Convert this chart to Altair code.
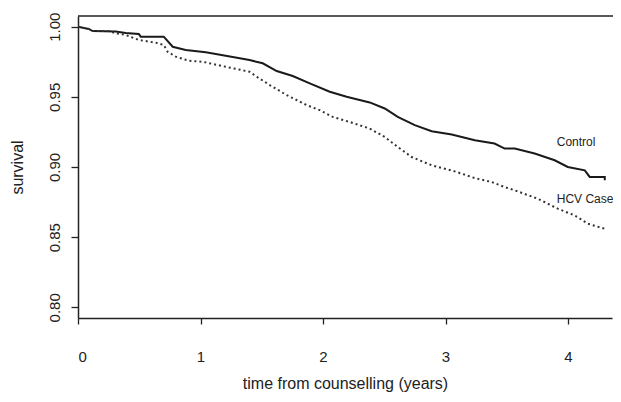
import altair as alt
import pandas as pd

# Kaplan-Meier curves
ctrl_t = [0.0, 0.087, 0.12, 0.308, 0.389, 0.496, 0.512, 0.70, 0.773, 0.879, 1.043, 1.206,
          1.40, 1.508, 1.622, 1.753, 1.892, 2.055, 2.193, 2.381, 2.504, 2.61, 2.749, 2.887,
          3.051, 3.239, 3.40, 3.483, 3.565, 3.728, 3.891, 3.998, 4.137, 4.177, 4.30, 4.30]
ctrl_s = [1.000, 0.9984, 0.9969, 0.9966, 0.9955, 0.9948, 0.9929, 0.9929, 0.9857, 0.9834, 0.9817, 0.9793,
          0.9762, 0.9739, 0.9684, 0.9648, 0.9596, 0.9536, 0.9500, 0.9460, 0.9417, 0.9357, 0.9298, 0.9255,
          0.9231, 0.9191, 0.9167, 0.9131, 0.9131, 0.9096, 0.9048, 0.9000, 0.8976, 0.8929, 0.8929, 0.8905]

hcv_t = [0.0, 0.087, 0.12, 0.25, 0.308, 0.389, 0.496, 0.634, 0.70, 0.732, 0.798, 0.904, 1.018,
         1.206, 1.40, 1.459, 1.565, 1.704, 1.867, 1.973, 2.079, 2.218, 2.381, 2.504, 2.61,
         2.724, 2.887, 3.075, 3.239, 3.377, 3.483, 3.565, 3.753, 3.916, 4.055, 4.161, 4.30]
hcv_s = [1.000, 0.9984, 0.9969, 0.9969, 0.9953, 0.9941, 0.9905, 0.9886, 0.9869, 0.9821, 0.9786, 0.9757, 0.9750,
         0.9714, 0.9679, 0.9643, 0.9584, 0.9512, 0.9441, 0.9405, 0.9357, 0.9321, 0.9274, 0.9214, 0.9143,
         0.9071, 0.9012, 0.8969, 0.8921, 0.8893, 0.8857, 0.8834, 0.8774, 0.8703, 0.8655, 0.8596, 0.8560]

x_ticks = [0, 1, 2, 3, 4]
y_ticks = [0.80, 0.85, 0.90, 0.95, 1.00]

label_text = ["Control", "HCV Case"]
label_t = [3.908, 3.908]
label_s = [0.9179, 0.8769]

W, H = 534, 302
FONT = "Liberation Sans"
INK = "#222222"

ctrl = pd.DataFrame({"t": ctrl_t, "s": ctrl_s})
hcv = pd.DataFrame({"t": hcv_t, "s": hcv_s})
labels = pd.DataFrame({"t": label_t, "s": label_s, "text": label_text})

xscale = alt.Scale(domain=[0, 4.359], nice=False, zero=False)
yscale = alt.Scale(domain=[0.7924, 1.0076], nice=False, zero=False)

xaxis = alt.Axis(values=x_ticks, format="d", title="time from counselling (years)", grid=False,
                 labelFontSize=15, labelFont=FONT, labelColor=INK, labelPadding=25,
                 tickSize=6, tickColor=INK, tickWidth=1.3, domainColor=INK, domainWidth=1.5,
                 titleFont=FONT, titleFontSize=16, titleFontWeight="normal", titleColor=INK,
                 titleY=70, titleBaseline="alphabetic")
yaxis = alt.Axis(values=y_ticks, format=".2f", title="survival", grid=False,
                 labelFontSize=15, labelFont=FONT, labelColor=INK, labelAngle=-90,
                 labelAlign="center", labelBaseline="middle", labelPadding=17,
                 tickSize=7, tickColor=INK, tickWidth=1.3, domainColor=INK, domainWidth=1.5,
                 titleFont=FONT, titleFontSize=16, titleFontWeight="normal", titleColor=INK,
                 titleX=-61, titleY=H / 2, titleAlign="center", titleBaseline="middle")

ctrl_line = alt.Chart(ctrl).mark_line(color="#1a1a1a", strokeWidth=2).encode(
    x=alt.X("t:Q", scale=xscale, axis=xaxis),
    y=alt.Y("s:Q", scale=yscale, axis=yaxis),
    order="t:Q",
)
hcv_line = alt.Chart(hcv).mark_line(color="#333333", strokeWidth=2, strokeDash=[2, 3]).encode(
    x=alt.X("t:Q", scale=xscale),
    y=alt.Y("s:Q", scale=yscale),
    order="t:Q",
)
text = alt.Chart(labels).mark_text(align="left", baseline="middle", font=FONT, fontSize=12,
                                   color=INK).encode(
    x=alt.X("t:Q", scale=xscale),
    y=alt.Y("s:Q", scale=yscale),
    text="text:N",
)
top_border = alt.Chart(pd.DataFrame({"a": [0]})).mark_rule(color=INK, strokeWidth=1.5).encode(
    x=alt.value(0), x2=alt.value(W + 1), y=alt.value(0)
)

chart = alt.layer(ctrl_line, hcv_line, text, top_border).properties(
    width=W, height=H,
    autosize=alt.AutoSizeParams(type="none"),
    padding={"left": 70, "top": 8, "right": 1, "bottom": 76},
    background="white",
).configure_view(stroke=None)

chart.save("out.html", embed_options={"renderer": "svg", "actions": False})
